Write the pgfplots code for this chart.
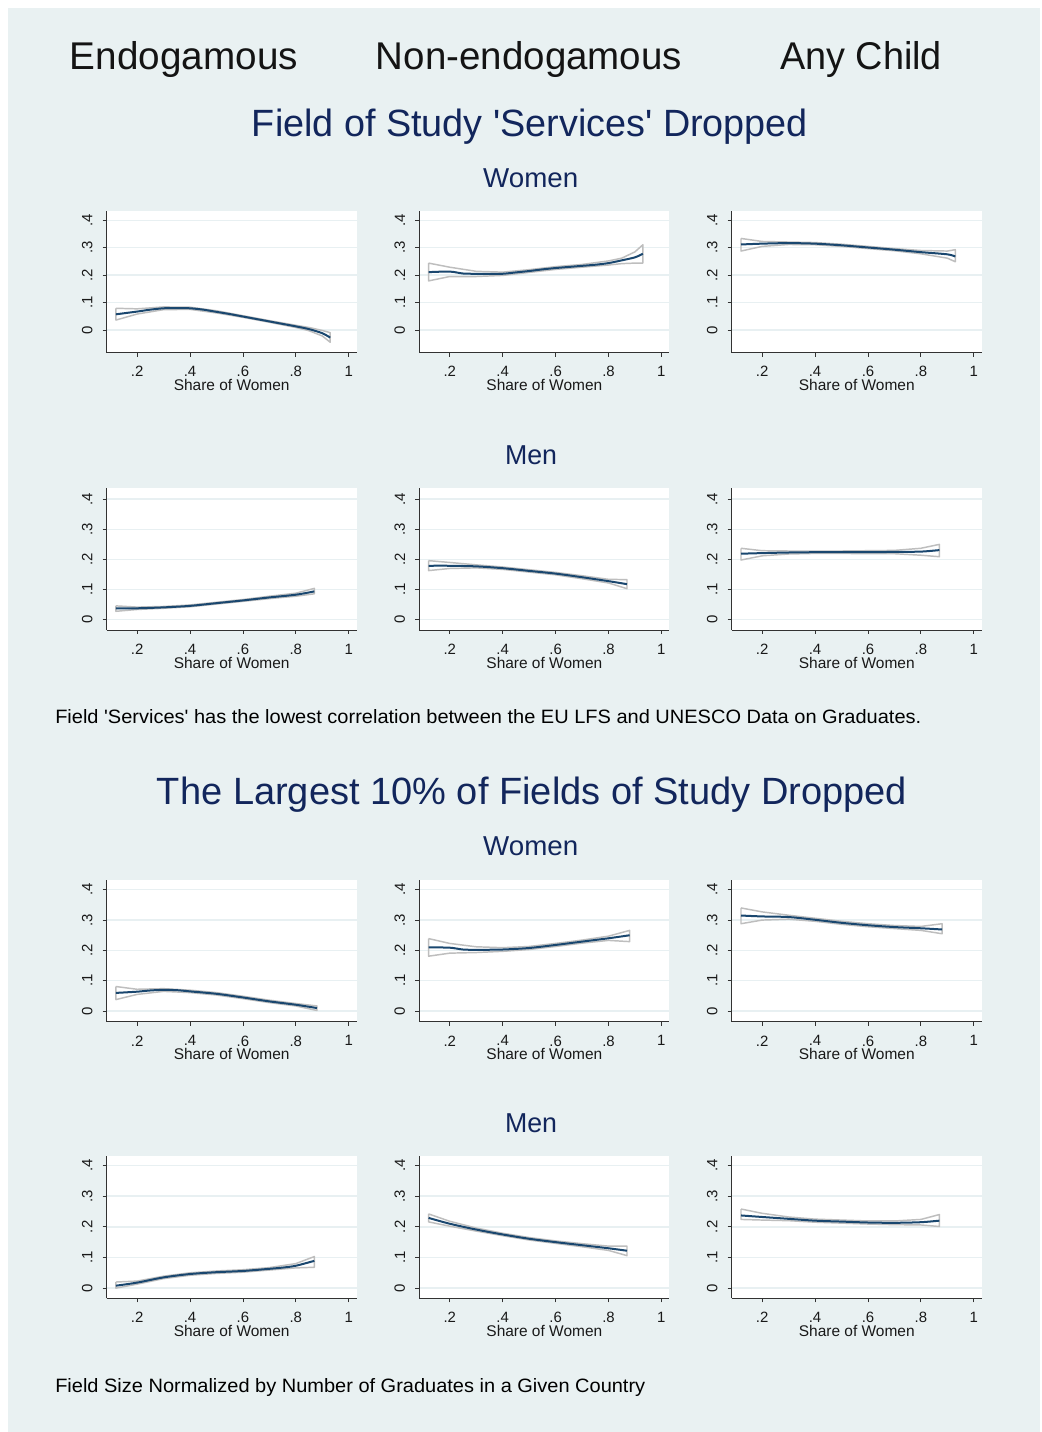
\documentclass[border=0pt]{standalone}
\usepackage{fontspec}
\setmainfont[Ligatures=TeXOff]{Liberation Sans}
\usepackage{graphicx}
\usepackage{pgfplots}
\pgfplotsset{compat=1.18}
\definecolor{bgc}{RGB}{233,241,242}
\definecolor{gridc}{RGB}{232,240,242}
\definecolor{navyc}{RGB}{26,71,111}
\definecolor{cic}{RGB}{190,190,190}
\definecolor{titlec}{RGB}{18,38,92}
\definecolor{axc}{RGB}{50,50,50}
\pgfplotsset{
  panel/.style={
    scale only axis, width=187.5pt, height=106.5pt,
    xmin=0.085, xmax=1.03,
    axis x line*=bottom, axis y line*=left,
    axis line style={-, draw=axc, line width=0.7pt},
    axis background/.style={fill=white},
    xtick={0.2,0.4,0.6,0.8,1}, xticklabels={.2,.4,.6,.8,1},
    ytick={0,0.1,0.2,0.3,0.4}, yticklabels={0,.1,.2,.3,.4},
    ymajorgrids, major grid style={draw=gridc, line width=1.1pt},
    tick align=outside, major tick length=3pt,
    tick style={draw=axc, line width=0.6pt},
    /pgf/number format/assume math mode=true,
    tick label style={font=\fontsize{11.2}{13}\selectfont, inner sep=0pt, text=black!90},
    xticklabel style={anchor=north},
    xticklabel shift=7.2pt,
    yticklabel style={rotate=90, anchor=south},
    yticklabel shift=7.5pt,
    xlabel={Share of Women},
    xlabel style={font=\fontsize{11.6}{13}\selectfont, inner sep=0pt, text=black!90,
      at={(axis description cs:0.5,0)}, anchor=north, yshift=-20pt},
  },
  mline/.style={draw=navyc, line width=1.5pt, smooth, tension=0.5, no markers},
  ciline/.style={draw=cic, line width=1.1pt, no markers, line join=round},
}
\begin{document}
\begin{tikzpicture}
\fill[white] (0pt,0pt) rectangle (781.5pt,1074pt);
\fill[bgc] (6pt,0pt) rectangle (780pt,1068pt);

% ===== Section 1, Women =====
\begin{axis}[panel, at={(80pt,809.5pt)}, anchor=south west, ymin=-0.083, ymax=0.4355]
\addplot[ciline] coordinates {(0.12,0.079)(0.2,0.077)(0.3,0.084)(0.4,0.083)(0.5,0.070)(0.6,0.052)(0.7,0.034)(0.8,0.017)(0.85,0.009)(0.9,-0.002)(0.93,-0.010)
 (0.93,-0.045)(0.9,-0.022)(0.85,-0.003)(0.8,0.009)(0.7,0.028)(0.6,0.046)(0.5,0.062)(0.4,0.075)(0.3,0.074)(0.2,0.058)(0.12,0.036)(0.12,0.079)};
\addplot[mline] coordinates {(0.12,0.057)(0.16,0.062)(0.2,0.067)(0.25,0.074)(0.3,0.079)(0.35,0.080)(0.4,0.079)(0.45,0.074)(0.5,0.066)(0.55,0.058)(0.6,0.049)(0.65,0.040)(0.7,0.031)(0.75,0.022)(0.8,0.013)(0.85,0.003)(0.9,-0.012)(0.93,-0.028)};
\end{axis}
\begin{axis}[panel, at={(314.5pt,809.5pt)}, anchor=south west, ymin=-0.083, ymax=0.4355]
\addplot[ciline] coordinates {(0.12,0.244)(0.2,0.229)(0.3,0.214)(0.4,0.211)(0.5,0.220)(0.6,0.231)(0.7,0.239)(0.8,0.252)(0.85,0.262)(0.9,0.285)(0.93,0.311)
 (0.93,0.244)(0.9,0.244)(0.85,0.242)(0.8,0.237)(0.7,0.229)(0.6,0.221)(0.5,0.210)(0.4,0.199)(0.3,0.195)(0.2,0.195)(0.12,0.179)(0.12,0.244)};
\addplot[mline] coordinates {(0.12,0.211)(0.2,0.213)(0.25,0.206)(0.3,0.205)(0.35,0.205)(0.4,0.205)(0.45,0.210)(0.5,0.215)(0.55,0.221)(0.6,0.226)(0.65,0.230)(0.7,0.234)(0.75,0.238)(0.8,0.244)(0.85,0.254)(0.9,0.265)(0.93,0.278)};
\end{axis}
\begin{axis}[panel, at={(548.8pt,809.5pt)}, anchor=south west, ymin=-0.083, ymax=0.4355]
\addplot[ciline] coordinates {(0.12,0.334)(0.2,0.323)(0.3,0.321)(0.4,0.319)(0.5,0.313)(0.6,0.305)(0.7,0.297)(0.8,0.290)(0.9,0.288)(0.93,0.293)
 (0.93,0.249)(0.9,0.262)(0.8,0.278)(0.7,0.289)(0.6,0.297)(0.5,0.305)(0.4,0.311)(0.3,0.312)(0.2,0.305)(0.12,0.288)(0.12,0.334)};
\addplot[mline] coordinates {(0.12,0.312)(0.2,0.315)(0.3,0.317)(0.4,0.315)(0.5,0.309)(0.6,0.301)(0.7,0.293)(0.8,0.284)(0.9,0.276)(0.93,0.268)};
\end{axis}

% ===== Section 1, Men =====
\begin{axis}[panel, at={(80pt,601.5pt)}, anchor=south west, ymin=-0.034, ymax=0.437]
\addplot[ciline] coordinates {(0.12,0.046)(0.2,0.042)(0.3,0.044)(0.4,0.049)(0.5,0.058)(0.6,0.067)(0.7,0.078)(0.8,0.088)(0.87,0.104)
 (0.87,0.086)(0.8,0.078)(0.7,0.070)(0.6,0.061)(0.5,0.052)(0.4,0.043)(0.3,0.038)(0.2,0.034)(0.12,0.028)(0.12,0.046)};
\addplot[mline] coordinates {(0.12,0.038)(0.2,0.038)(0.3,0.041)(0.4,0.046)(0.5,0.055)(0.6,0.064)(0.7,0.074)(0.8,0.083)(0.87,0.094)};
\end{axis}
\begin{axis}[panel, at={(314.5pt,601.5pt)}, anchor=south west, ymin=-0.034, ymax=0.437]
\addplot[ciline] coordinates {(0.12,0.196)(0.2,0.190)(0.3,0.182)(0.4,0.175)(0.5,0.166)(0.6,0.157)(0.7,0.146)(0.8,0.134)(0.87,0.133)
 (0.87,0.103)(0.8,0.122)(0.7,0.136)(0.6,0.149)(0.5,0.158)(0.4,0.167)(0.3,0.172)(0.2,0.170)(0.12,0.163)(0.12,0.196)};
\addplot[mline] coordinates {(0.12,0.179)(0.2,0.179)(0.3,0.177)(0.4,0.171)(0.5,0.162)(0.6,0.153)(0.7,0.141)(0.8,0.128)(0.87,0.118)};
\end{axis}
\begin{axis}[panel, at={(548.8pt,601.5pt)}, anchor=south west, ymin=-0.034, ymax=0.437]
\addplot[ciline] coordinates {(0.12,0.237)(0.2,0.229)(0.3,0.228)(0.4,0.228)(0.5,0.228)(0.6,0.229)(0.7,0.230)(0.8,0.237)(0.87,0.250)
 (0.87,0.209)(0.8,0.214)(0.7,0.219)(0.6,0.219)(0.5,0.220)(0.4,0.220)(0.3,0.218)(0.2,0.212)(0.12,0.198)(0.12,0.237)};
\addplot[mline] coordinates {(0.12,0.219)(0.2,0.221)(0.3,0.223)(0.4,0.224)(0.5,0.224)(0.6,0.224)(0.7,0.225)(0.8,0.226)(0.87,0.231)};
\end{axis}

% ===== Section 2, Women =====
\begin{axis}[panel, at={(80pt,307.7pt)}, anchor=south west, ymin=-0.035, ymax=0.433]
\addplot[ciline] coordinates {(0.12,0.081)(0.2,0.072)(0.3,0.074)(0.4,0.069)(0.5,0.061)(0.6,0.049)(0.7,0.036)(0.8,0.025)(0.88,0.017)
 (0.88,0.002)(0.8,0.017)(0.7,0.028)(0.6,0.041)(0.5,0.053)(0.4,0.061)(0.3,0.065)(0.2,0.055)(0.12,0.038)(0.12,0.081)};
\addplot[mline] coordinates {(0.12,0.060)(0.2,0.064)(0.25,0.068)(0.3,0.070)(0.35,0.069)(0.4,0.065)(0.5,0.057)(0.6,0.045)(0.7,0.032)(0.8,0.021)(0.88,0.010)};
\end{axis}
\begin{axis}[panel, at={(314.5pt,307.7pt)}, anchor=south west, ymin=-0.035, ymax=0.433]
\addplot[ciline] coordinates {(0.12,0.239)(0.2,0.223)(0.3,0.212)(0.4,0.209)(0.5,0.213)(0.6,0.223)(0.7,0.234)(0.8,0.247)(0.88,0.266)
 (0.88,0.229)(0.8,0.233)(0.7,0.224)(0.6,0.213)(0.5,0.203)(0.4,0.197)(0.3,0.193)(0.2,0.191)(0.12,0.181)(0.12,0.239)};
\addplot[mline] coordinates {(0.12,0.210)(0.2,0.209)(0.25,0.203)(0.3,0.202)(0.4,0.203)(0.5,0.208)(0.6,0.218)(0.7,0.229)(0.8,0.240)(0.88,0.250)};
\end{axis}
\begin{axis}[panel, at={(548.8pt,307.7pt)}, anchor=south west, ymin=-0.035, ymax=0.433]
\addplot[ciline] coordinates {(0.12,0.340)(0.2,0.327)(0.3,0.316)(0.4,0.306)(0.5,0.296)(0.6,0.288)(0.7,0.282)(0.8,0.279)(0.88,0.288)
 (0.88,0.255)(0.8,0.266)(0.7,0.272)(0.6,0.278)(0.5,0.286)(0.4,0.296)(0.3,0.303)(0.2,0.300)(0.12,0.288)(0.12,0.340)};
\addplot[mline] coordinates {(0.12,0.315)(0.2,0.312)(0.3,0.310)(0.4,0.301)(0.5,0.291)(0.6,0.283)(0.7,0.277)(0.8,0.273)(0.88,0.269)};
\end{axis}

% ===== Section 2, Men =====
\begin{axis}[panel, at={(80pt,100.3pt)}, anchor=south west, ymin=-0.033, ymax=0.43]
\addplot[ciline] coordinates {(0.12,0.020)(0.2,0.023)(0.3,0.039)(0.4,0.050)(0.5,0.056)(0.6,0.060)(0.7,0.067)(0.8,0.080)(0.87,0.103)
 (0.87,0.068)(0.8,0.066)(0.7,0.059)(0.6,0.052)(0.5,0.048)(0.4,0.042)(0.3,0.031)(0.2,0.013)(0.12,0.000)(0.12,0.020)};
\addplot[mline] coordinates {(0.12,0.008)(0.2,0.018)(0.3,0.035)(0.4,0.046)(0.5,0.052)(0.6,0.056)(0.7,0.063)(0.75,0.067)(0.8,0.073)(0.87,0.089)};
\end{axis}
\begin{axis}[panel, at={(314.5pt,100.3pt)}, anchor=south west, ymin=-0.033, ymax=0.43]
\addplot[ciline] coordinates {(0.12,0.242)(0.2,0.218)(0.3,0.196)(0.4,0.179)(0.5,0.165)(0.6,0.154)(0.7,0.145)(0.8,0.137)(0.87,0.137)
 (0.87,0.106)(0.8,0.123)(0.7,0.135)(0.6,0.146)(0.5,0.157)(0.4,0.171)(0.3,0.186)(0.2,0.202)(0.12,0.216)(0.12,0.242)};
\addplot[mline] coordinates {(0.12,0.229)(0.2,0.210)(0.3,0.191)(0.4,0.175)(0.5,0.161)(0.6,0.150)(0.7,0.140)(0.8,0.130)(0.87,0.122)};
\end{axis}
\begin{axis}[panel, at={(548.8pt,100.3pt)}, anchor=south west, ymin=-0.033, ymax=0.43]
\addplot[ciline] coordinates {(0.12,0.258)(0.2,0.244)(0.3,0.232)(0.4,0.225)(0.5,0.222)(0.6,0.219)(0.7,0.219)(0.8,0.224)(0.87,0.240)
 (0.87,0.201)(0.8,0.206)(0.7,0.207)(0.6,0.209)(0.5,0.212)(0.4,0.215)(0.3,0.220)(0.2,0.222)(0.12,0.224)(0.12,0.258)};
\addplot[mline] coordinates {(0.12,0.237)(0.2,0.232)(0.3,0.226)(0.4,0.220)(0.5,0.217)(0.6,0.214)(0.7,0.213)(0.8,0.215)(0.87,0.220)};
\end{axis}

% ===== Texts =====
\begin{scope}[every node/.style={inner sep=0pt, anchor=base}]
\node[text=black!92] at (138pt,1021.5pt) {\resizebox{171pt}{\height}{\fontsize{29}{34}\selectfont Endogamous}};
\node[text=black!92] at (396.75pt,1021.5pt) {\resizebox{229.5pt}{\height}{\fontsize{29}{34}\selectfont Non-endogamous}};
\node[text=black!92] at (645.75pt,1021.5pt) {\resizebox{121.5pt}{\height}{\fontsize{29}{34}\selectfont Any Child}};
\node[text=titlec] at (397.5pt,971.25pt) {\resizebox{417pt}{\height}{\fontsize{28.5}{34}\selectfont Field of Study 'Services' Dropped}};
\node[text=titlec] at (398pt,933pt) {\resizebox{71.25pt}{\height}{\fontsize{20.5}{24}\selectfont Women}};
\node[text=titlec] at (398.25pt,725.25pt) {\resizebox{39pt}{\height}{\fontsize{20.5}{24}\selectfont Men}};
\node[text=black, anchor=base west] at (41.25pt,531pt) {\resizebox{649.5pt}{\height}{\fontsize{14.5}{17}\selectfont Field 'Services' has the lowest correlation between the EU LFS and UNESCO Data on Graduates.}};
\node[text=titlec] at (399pt,470.25pt) {\resizebox{562.5pt}{\height}{\fontsize{28.5}{34}\selectfont The Largest 10\% of Fields of Study Dropped}};
\node[text=titlec] at (398pt,432pt) {\resizebox{71.25pt}{\height}{\fontsize{20.5}{24}\selectfont Women}};
\node[text=titlec] at (398.25pt,224.25pt) {\resizebox{39pt}{\height}{\fontsize{20.5}{24}\selectfont Men}};
\node[text=black, anchor=base west] at (41.25pt,29.25pt) {\resizebox{442.5pt}{\height}{\fontsize{14.5}{17}\selectfont Field Size Normalized by Number of Graduates in a Given Country}};
\end{scope}
\end{tikzpicture}
\end{document}
